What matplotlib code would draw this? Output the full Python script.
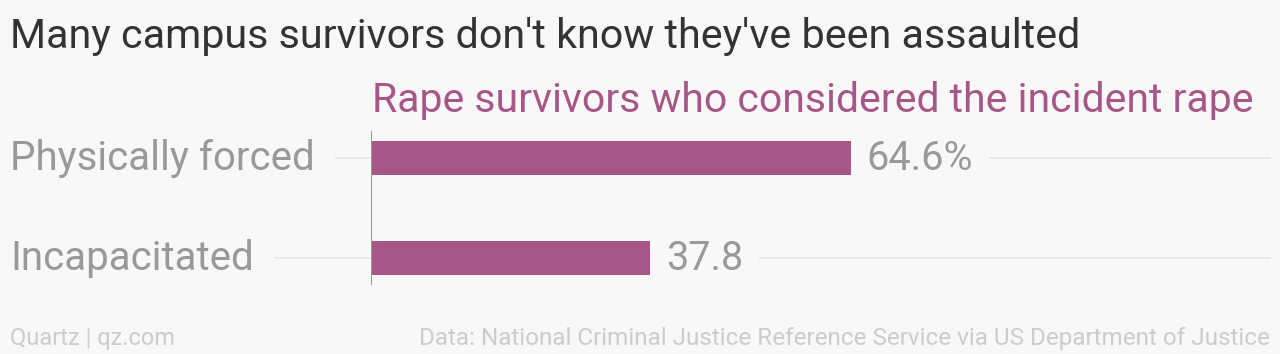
import matplotlib.pyplot as plt
from matplotlib import transforms

# data
categories = ["Incapacitated", "Physically forced"]
values = [37.8, 64.6]
value_labels = ["37.8", "64.6%"]

bg = "#f8f8f8"
bar_color = "#a65787"
label_gray = "#999999"
plt.rcParams['font.family'] = ['Roboto', 'DejaVu Sans']

fig = plt.figure(figsize=(12.8, 3.54), dpi=100, facecolor=bg)
W, H = 1280, 354
px_per_unit = 7.48
ax = fig.add_axes([371 / W, 1 - 285 / H, 900 / W, 154 / H])
ax.set_facecolor(bg)

ypos = list(range(len(categories)))
ax.barh(ypos, values, height=0.34, color=bar_color, zorder=2)
ax.set_xlim(0, 900 / px_per_unit)
ax.set_ylim(-0.27, len(categories) - 1 + 0.27)

for s in ax.spines.values():
    s.set_visible(False)
ax.set_xticks([])
ax.set_yticks([])
ax.axvline(0, color="#999999", lw=1.5, zorder=3)

# gridlines running under the labels
ax.hlines(ypos, -50, 900 / px_per_unit, color="#e6e6e6", lw=1.2, zorder=1, clip_on=False)

trans = transforms.blended_transform_factory(fig.transFigure, ax.transData)
for y, cat in zip(ypos, categories):
    ax.text(10 / W, y, cat, transform=trans, ha="left", va="center",
            fontsize=29, color=label_gray, zorder=4,
            bbox=dict(boxstyle="square,pad=0.5", fc=bg, ec="none"))

for y, v, lab in zip(ypos, values, value_labels):
    ax.annotate(lab, (v, y), xytext=(9, 0), textcoords="offset points",
                ha="left", va="center", fontsize=28.5, color=label_gray,
                zorder=4,
                bbox=dict(boxstyle="square,pad=0.4", fc=bg, ec="none"))

fig.text(10 / W, 1 - 37 / H, "Many campus survivors don't know they've been assaulted",
         ha="left", va="center", fontsize=29.7, color="#333333")
fig.text(372 / W, 1 - 100 / H, "Rape survivors who considered the incident rape",
         ha="left", va="center", fontsize=29.5, color="#a65787")

fig.text(10 / W, 1 - 338 / H, "Quartz | qz.com", ha="left", va="center",
         fontsize=17, color="#cccccc")
fig.text(1270 / W, 1 - 338 / H,
         "Data: National Criminal Justice Reference Service via US Department of Justice",
         ha="right", va="center", fontsize=17.5, color="#cccccc")

fig.savefig("out.png", dpi=100, facecolor=bg)
